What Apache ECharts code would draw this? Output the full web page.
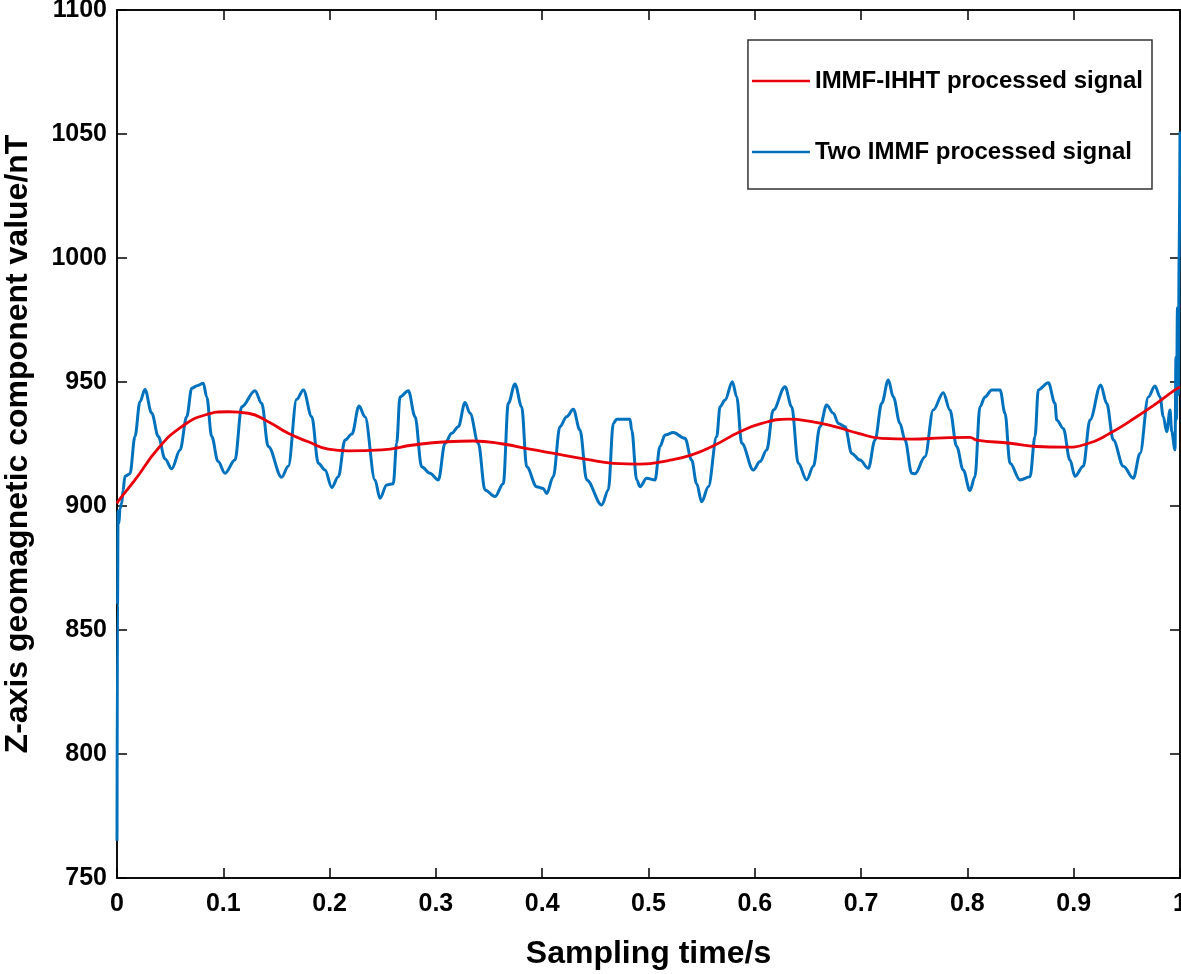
<!DOCTYPE html>
<html>
<head>
<meta charset="utf-8">
<script src="https://cdn.jsdelivr.net/npm/echarts@6/dist/echarts.min.js"></script>
<style>
html,body{margin:0;padding:0;background:#fff;}
#chart{width:1181px;height:974px;}
</style>
</head>
<body>
<div id="chart"></div>
<script>
// ---- Data ----
const seriesNames = ['IMMF-IHHT processed signal', 'Two IMMF processed signal'];

const timeBlue = [0,0.0005,0.001,0.0018,0.0028,0.0044,0.0056,0.0075,0.0122,0.0169,0.0216,0.0263,0.0326,0.0389,0.0452,0.0515,0.0593,0.0656,0.0703,0.0753,0.0812,0.0844,0.0891,0.095,0.1016,0.111,0.1173,0.1298,0.1361,0.1423,0.1549,0.1611,0.169,0.1753,0.1832,0.1894,0.1957,0.202,0.2082,0.2145,0.221,0.2277,0.2333,0.2427,0.2474,0.2537,0.2599,0.2631,0.2662,0.2741,0.2804,0.2866,0.2944,0.3023,0.3086,0.3149,0.3211,0.3274,0.3321,0.3399,0.3462,0.3556,0.3634,0.3681,0.3744,0.3807,0.3854,0.3948,0.401,0.4042,0.4104,0.4167,0.423,0.4293,0.4355,0.4419,0.456,0.4622,0.4669,0.4701,0.4826,0.4842,0.4889,0.492,0.4983,0.5061,0.5108,0.5155,0.5233,0.5343,0.5406,0.5453,0.55,0.5563,0.5642,0.5673,0.572,0.5789,0.583,0.5877,0.5986,0.6049,0.6112,0.6174,0.6284,0.6347,0.6409,0.6488,0.6551,0.6613,0.6676,0.6739,0.6786,0.6849,0.6912,0.699,0.7068,0.7131,0.7194,0.7256,0.7303,0.7366,0.7413,0.7476,0.7507,0.7601,0.7679,0.7773,0.7836,0.7899,0.7961,0.8024,0.8071,0.8118,0.8166,0.8229,0.8307,0.8354,0.8401,0.8495,0.8589,0.8636,0.8667,0.8761,0.8824,0.884,0.8902,0.8965,0.9012,0.909,0.9153,0.9254,0.931,0.9373,0.9467,0.9561,0.9624,0.9702,0.9765,0.9812,0.9843,0.9875,0.9906,0.9922,0.9953,0.9962,0.9967,0.9976,0.9984,0.9992,1.0];
const valueBlue = [765,860,898,893,899,901,906,912,913,928,942,947,937.5,928,919,915,922.6,936,947.5,948.5,949.5,944,928,918,913.2,918.5,940,946.5,941.4,924,911.6,916,943,946.8,936,917.2,914.5,907.5,911.8,926.6,929,940.3,936,910.5,903.1,908.5,909,925.3,944,946.5,936,915.8,913.2,910.5,925.3,929.3,932,941.7,937.4,925.3,906.5,903.8,909,941.4,949.2,940,915.8,907.8,907.1,905,911.8,932,936,939,930.6,910.5,900.4,906.5,933.3,935,935,930.6,910.5,907.8,911.2,910.5,924,928.6,929.6,927.3,918.5,909,901.7,907.8,928,940,942.7,950.1,944,925.3,914.5,917.9,922.6,938.7,948.1,940,917.2,910.5,916,932,940.7,937.4,933.3,932,921.2,918.5,915.2,926.6,941.4,950.8,944,933.3,926.6,913.2,913,919.9,938.7,945.7,938.7,924,914.5,906.2,911.8,940,944,946.8,946.8,937.4,917.2,910.5,911.8,928,946.8,949.7,941.4,934.7,931.3,918.5,912,916,934.7,948.8,941.4,926.6,916,911.2,921.2,944,948.4,944,936,930,938.7,930,922.6,960,935,980,945,1000,1051];

const timeRed = [0,0.0012,0.0169,0.0389,0.0609,0.0828,0.1047,0.1235,0.1423,0.1611,0.18,0.1988,0.2176,0.249,0.2787,0.3102,0.3352,0.3634,0.3885,0.4136,0.4419,0.4669,0.492,0.5186,0.5406,0.5626,0.5845,0.6065,0.6315,0.6535,0.6754,0.6974,0.7194,0.7476,0.7773,0.8024,0.8088,0.8401,0.8651,0.8902,0.9122,0.9341,0.9592,0.9779,0.9953,1.0];
const valueRed = [901,902,910.5,923.3,932,936.7,938,937.4,934,929.3,925.9,922.9,922.2,922.6,924.6,925.9,926.2,925,922.9,921,918.8,917.2,916.9,918.3,920.6,924.6,929.6,933.3,935,934,932,929.3,927.3,927,927.5,927.7,926.6,925.3,924,923.7,925,929.3,936,941.4,946.8,948];

const xTicks = {min: 0, max: 1, interval: 0.1};
const yTicks = {min: 750, max: 1100, interval: 50};
const xTitle = 'Sampling time/s';
const yTitle = 'Z-axis geomagnetic component value/nT';

// ---- Chart ----
const FONT = '"Liberation Sans", Arial, sans-serif';
const zip = (a, b) => a.map((t, i) => [t, b[i]]);

const chart = echarts.init(document.getElementById('chart'), null, {renderer: 'canvas'});

const axisLineStyle = {color: '#000', width: 1.5};
const hiddenLabel = {show: false};
const RED = '#e8000b';
const BLUE = '#0072bd';

chart.setOption({
  animation: false,
  backgroundColor: '#fff',
  grid: {left: 117, top: 10, right: 1, bottom: 96, containLabel: false, outerBoundsMode: 'none',
    show: true, borderColor: '#000', borderWidth: 1.5, backgroundColor: 'transparent'},
  legend: {
    orient: 'vertical',
    right: 29, top: 40,
    backgroundColor: '#fff',
    borderColor: '#333', borderWidth: 1.5, borderRadius: 0,
    padding: [29, 9, 25, 4],
    itemGap: 47,
    itemWidth: 58, itemHeight: 2.5,
    textStyle: {fontFamily: FONT, fontWeight: 'bold', fontSize: 24, color: '#000'},
    data: [
      {name: seriesNames[0], icon: 'rect', itemStyle: {color: RED}},
      {name: seriesNames[1], icon: 'rect', itemStyle: {color: BLUE}}
    ]
  },
  xAxis: [{
    type: 'value', min: xTicks.min, max: xTicks.max, interval: xTicks.interval,
    name: xTitle, nameLocation: 'middle', nameGap: 60,
    nameTextStyle: {fontFamily: FONT, fontWeight: 'bold', fontSize: 32, color: '#000'},
    axisLine: {show: true, onZero: false, lineStyle: axisLineStyle},
    axisTick: {show: true, inside: true, length: 10, lineStyle: axisLineStyle},
    axisLabel: {fontFamily: FONT, fontWeight: 'bold', fontSize: 25, color: '#000', margin: 14,
      formatter: v => String(+v.toFixed(1))},
    splitLine: {show: false}
  }, {
    type: 'value', position: 'top', min: xTicks.min, max: xTicks.max, interval: xTicks.interval,
    axisLine: {show: true, onZero: false, lineStyle: axisLineStyle},
    axisTick: {show: true, inside: true, length: 10, lineStyle: axisLineStyle},
    axisLabel: hiddenLabel, splitLine: {show: false}
  }],
  yAxis: [{
    type: 'value', min: yTicks.min, max: yTicks.max, interval: yTicks.interval,
    name: yTitle, nameLocation: 'middle', nameGap: 83,
    nameTextStyle: {fontFamily: FONT, fontWeight: 'bold', fontSize: 32, color: '#000'},
    axisLine: {show: true, onZero: false, lineStyle: axisLineStyle},
    axisTick: {show: true, inside: true, length: 10, lineStyle: axisLineStyle},
    axisLabel: {fontFamily: FONT, fontWeight: 'bold', fontSize: 25, color: '#000', margin: 10,
      formatter: v => String(v)},
    splitLine: {show: false}
  }, {
    type: 'value', position: 'right', min: yTicks.min, max: yTicks.max, interval: yTicks.interval,
    axisLine: {show: true, onZero: false, lineStyle: axisLineStyle},
    axisTick: {show: true, inside: true, length: 10, lineStyle: axisLineStyle},
    axisLabel: hiddenLabel, splitLine: {show: false}
  }],
  series: [{
    name: seriesNames[0], type: 'line', xAxisIndex: 0, yAxisIndex: 0,
    data: zip(timeRed, valueRed), symbol: 'none', smooth: 0.5, z: 3,
    lineStyle: {color: RED, width: 2.8}, itemStyle: {color: RED}
  }, {
    name: seriesNames[1], type: 'line', xAxisIndex: 0, yAxisIndex: 0,
    data: zip(timeBlue, valueBlue), symbol: 'none', smooth: 0.35, smoothMonotone: 'x', z: 2,
    lineStyle: {color: BLUE, width: 3}, itemStyle: {color: BLUE}
  }]
});
</script>
</body>
</html>
